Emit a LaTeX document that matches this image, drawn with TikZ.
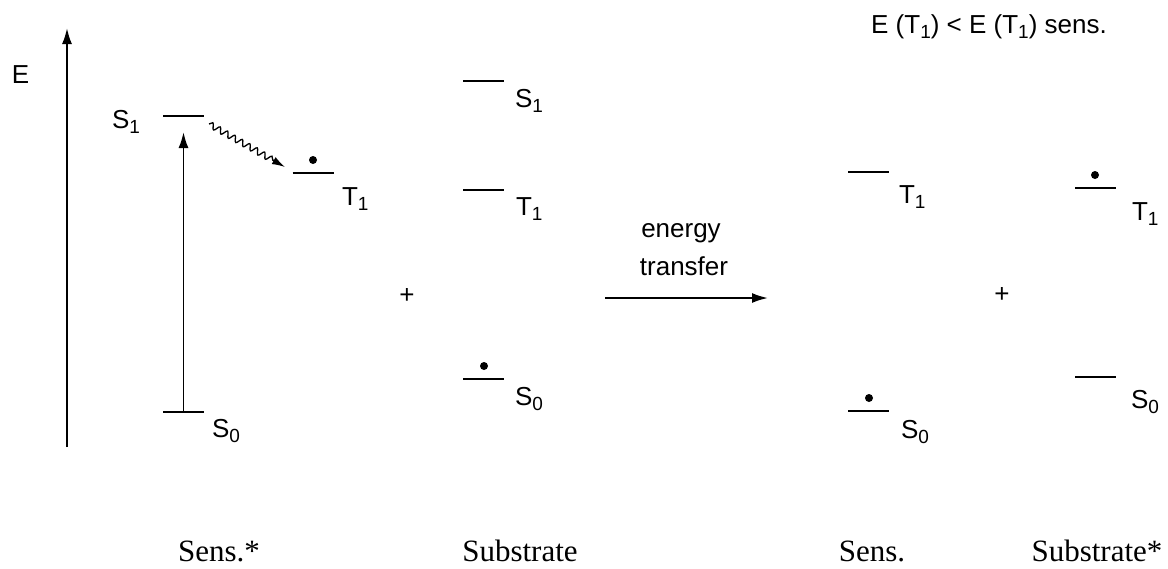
\documentclass[tikz,border=0pt]{standalone}
\usepackage{fontspec}
\setmainfont{Liberation Serif}
\setsansfont{Liberation Sans}
\usetikzlibrary{arrows.meta,decorations.pathmorphing}

% lowered, reduced index for state labels
\newcommand\stidx[1]{\raisebox{-5pt}{\fontsize{19}{19}\selectfont #1}}

\tikzset{
  lvl/.style={minimum width=41pt, minimum height=0pt, inner sep=0pt, outer sep=0pt,
    append after command={(\tikzlastnode.west) edge[line width=1.9pt] (\tikzlastnode.east)}},
  lbl/.style={font=\sffamily\fontsize{26}{30}\selectfont, inner sep=0pt, outer sep=0pt},
  species/.style={font=\rmfamily\fontsize{31}{36}\selectfont, inner sep=0pt, anchor=base},
  elec/.style={circle, fill=black, inner sep=0pt, minimum size=8pt},
  arrowhd/.style={-{Latex[length=16pt,width=10pt]}},
  axisline/.style={line width=1.9pt},
}

\begin{document}
\begin{tikzpicture}[x=1pt,y=-1pt]
\useasboundingbox (0,0) rectangle (1168,568);

% energy axis
\coordinate (ax0) at (67,447);
\coordinate (ax1) at (67,28);
\draw[axisline, arrowhd] (ax0) -- (ax1);
\node[lbl, anchor=base west] (elab) at (12,83) {E};

% excited sensitiser
\node[lvl] (sa1) at (183.5,116) {};
\node[lvl] (sat) at (313,173) {};
\node[lvl] (sa0) at (183.5,412) {};
\node[elec] (sate) at (313,160) {};
\node[lbl, anchor=base west] (sa1l) at (112,128) {S\stidx{1}};
\node[lbl, anchor=base west] (satl) at (342,205) {T\stidx{1}};
\node[lbl, anchor=base west] (sa0l) at (212,437) {S\stidx{0}};
\draw[axisline, arrowhd] (sa0.center) -- ([yshift=-16pt]sa1.center);
\coordinate (wv0) at (209,124);
\coordinate (wv1) at (285,167);
\draw[line width=1.3pt, -{Latex[length=13pt,width=8pt]}, decorate,
  decoration={snake, amplitude=3pt, segment length=8.5pt, post length=10pt}] (wv0) -- (wv1);

\node[lbl] (plus1) at (407,296) {+};

% ground-state substrate
\node[lvl] (sb1) at (483.5,81) {};
\node[lvl] (sbt) at (483.5,190) {};
\node[lvl] (sb0) at (483.5,379) {};
\node[elec] (sbe) at (484,366) {};
\node[lbl, anchor=base west] (sb1l) at (515,107) {S\stidx{1}};
\node[lbl, anchor=base west] (sbtl) at (516,215) {T\stidx{1}};
\node[lbl, anchor=base west] (sb0l) at (515,405) {S\stidx{0}};

% energy transfer step
\coordinate (et0) at (605,298);
\coordinate (et1) at (768,298);
\draw[axisline, arrowhd] (et0) -- (et1);
\node[lbl, anchor=base] (eta) at (681,237) {energy};
\node[lbl, anchor=base] (etb) at (684,275) {transfer};

% ground-state sensitiser
\node[lvl] (sc1) at (868.5,172) {};
\node[lvl] (sc0) at (868.5,411) {};
\node[elec] (sce) at (869,398) {};
\node[lbl, anchor=base west] (sctl) at (899,203) {T\stidx{1}};
\node[lbl, anchor=base west] (sc0l) at (901,438) {S\stidx{0}};

\node[lbl] (plus2) at (1002,295) {+};

% excited substrate
\node[lvl] (sd1) at (1095.5,188) {};
\node[lvl] (sd0) at (1095.5,377) {};
\node[elec] (sde) at (1095,175) {};
\node[lbl, anchor=base west] (sdtl) at (1132,220) {T\stidx{1}};
\node[lbl, anchor=base west] (sd0l) at (1131,408) {S\stidx{0}};

% condition
\node[lbl, anchor=base] (cond) at (989,33) {E (T\stidx{1}) < E (T\stidx{1}) sens.};

% species captions
\node[species] (capa) at (219,561) {Sens.*};
\node[species] (capb) at (520,561) {Substrate};
\node[species] (capc) at (872,561) {Sens.};
\node[species] (capd) at (1097,561) {Substrate*};
\end{tikzpicture}
\end{document}
